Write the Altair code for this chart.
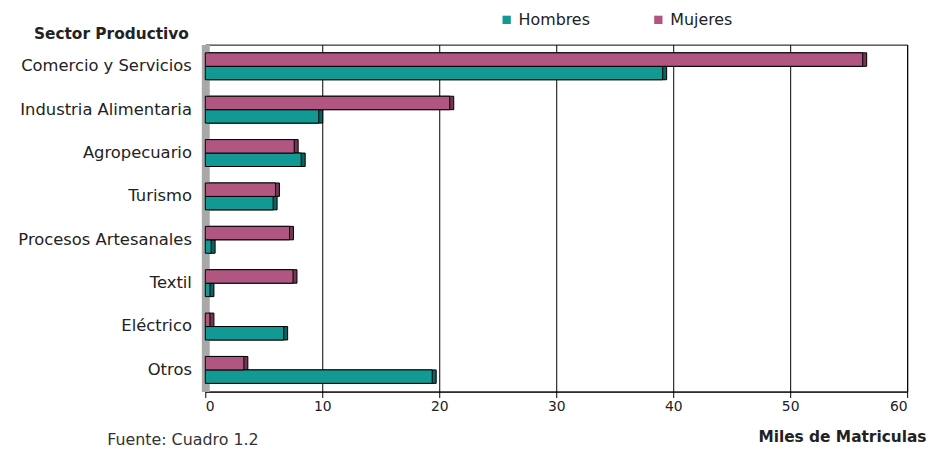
import altair as alt
import pandas as pd

sectores = ["Comercio y Servicios", "Industria Alimentaria", "Agropecuario", "Turismo",
            "Procesos Artesanales", "Textil", "Eléctrico", "Otros"]
hombres = [39.1, 9.7, 8.2, 5.8, 0.5, 0.4, 6.7, 19.4]
mujeres = [56.2, 20.9, 7.6, 6.0, 7.2, 7.5, 0.4, 3.3]
series = ["Hombres", "Mujeres"]
colores = ["#139994", "#b05680"]
ticks = [0, 10, 20, 30, 40, 50, 60]

rows = []
for s, h, m in zip(sectores, hombres, mujeres):
    rows.append({"Sector": s, "Sexo": "Hombres", "Valor": h})
    rows.append({"Sector": s, "Sexo": "Mujeres", "Valor": m})
df = pd.DataFrame(rows)

x_enc = alt.X("Valor:Q", scale=alt.Scale(domain=[0, 60], nice=False),
              axis=alt.Axis(values=ticks, title="Miles de Matriculas", titleAlign="right",
                            titleAnchor="end", titleX=727, titleY=38, titleFontSize=15.5,
                            titleFontWeight="bold", titleColor="#222", labelFontSize=14,
                            labelColor="#222", tickColor="black", tickSize=6,
                            domainColor="black", grid=True, gridColor="black",
                            gridOpacity=1, labelPadding=2, format="d"))
y_enc = alt.Y("Sector:N", sort=sectores,
              scale=alt.Scale(paddingInner=0.38, paddingOuter=0.19),
              axis=alt.Axis(title="Sector Productivo", titleAngle=0, titleAlign="right",
                            titleX=-17, titleY=-6, titleBaseline="alphabetic",
                            titleFontSize=15.5, titleFontWeight="bold", titleColor="#222",
                            labelFontSize=16.5, labelColor="#222",
                            labelPadding=14, ticks=False, domainColor="#a8a8a8",
                            domainWidth=8))
yoff = alt.YOffset("Sexo:N", sort=["Mujeres", "Hombres"], scale=alt.Scale(paddingInner=0))
color_enc = alt.Color("Sexo:N", scale=alt.Scale(domain=series, range=colores),
                      legend=alt.Legend(title=None, orient="none", direction="horizontal",
                                        legendX=296, legendY=-33, symbolType="square",
                                        symbolSize=70, symbolStrokeWidth=0,
                                        labelFontSize=16, labelColor="#222",
                                        columnPadding=61, labelOffset=4))

shift = dict(xOffset=4, x2Offset=4, yOffset=-4, y2Offset=-4)

back = alt.Chart(df).mark_bar(stroke="black", strokeWidth=1, **shift).encode(
    x=x_enc, y=y_enc, yOffset=yoff, color=color_enc,
)
shade = alt.Chart(df).mark_bar(color="black", opacity=0.35, **shift).encode(
    x=x_enc, y=y_enc, yOffset=yoff,
)
front = alt.Chart(df).mark_bar(stroke="black", strokeWidth=1).encode(
    x=x_enc, y=y_enc, yOffset=yoff, color=color_enc,
)

chart = alt.layer(back, shade, front).properties(
    width=708, height=350,
    autosize=alt.AutoSizeParams(type="none"),
    padding={"left": 199, "top": 35, "right": 20, "bottom": 60},
    title=alt.Title("Fuente: Cuadro 1.2", orient="bottom", anchor="start", frame="group",
                    dx=-99, dy=-17, fontSize=16, fontWeight="normal", color="#333"),
).configure(font="DejaVu Sans").configure_view(stroke="black", strokeWidth=1)

chart.save("out.html", embed_options={"renderer": "svg", "actions": False})
